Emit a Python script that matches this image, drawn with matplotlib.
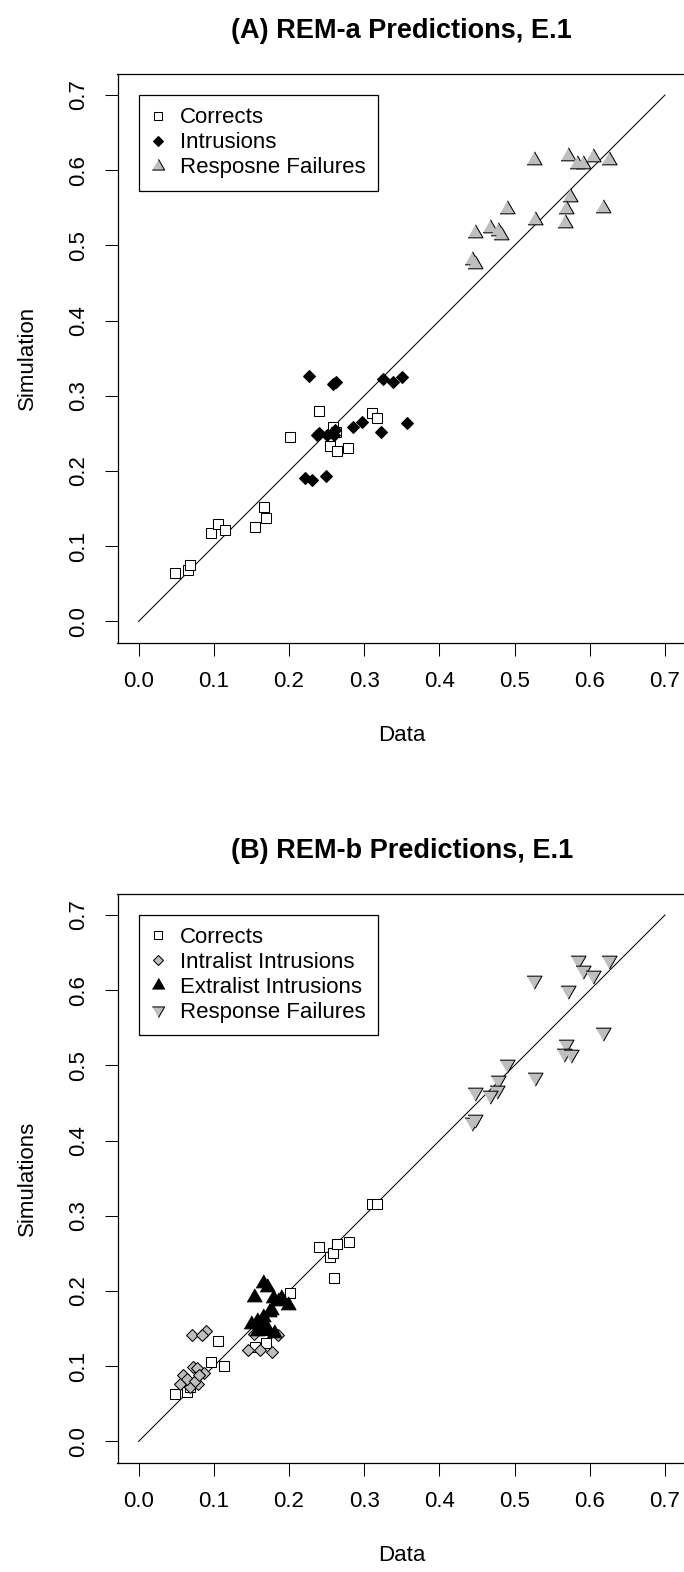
import matplotlib
matplotlib.use("Agg")
import matplotlib.pyplot as plt

plt.rcParams['font.family'] = ['Liberation Sans', 'DejaVu Sans']

# ---------------- Panel A data ----------------
a_corr_x = [0.049, 0.066, 0.068, 0.097, 0.106, 0.115, 0.155, 0.167, 0.169,
            0.202, 0.240, 0.259, 0.255, 0.264, 0.279, 0.310, 0.317, 0.262]
a_corr_y = [0.065, 0.069, 0.075, 0.118, 0.129, 0.122, 0.125, 0.152, 0.137,
            0.245, 0.280, 0.258, 0.233, 0.227, 0.231, 0.277, 0.271, 0.252]

a_intr_x = [0.226, 0.259, 0.263, 0.325, 0.338, 0.350, 0.357, 0.322, 0.285,
            0.297, 0.237, 0.240, 0.251, 0.261, 0.260, 0.222, 0.231, 0.249]
a_intr_y = [0.326, 0.316, 0.319, 0.322, 0.318, 0.325, 0.264, 0.252, 0.258,
            0.265, 0.248, 0.251, 0.248, 0.254, 0.248, 0.191, 0.188, 0.193]

a_fail_x = [0.526, 0.571, 0.583, 0.591, 0.604, 0.625, 0.574, 0.569, 0.567,
            0.617, 0.527, 0.490, 0.468, 0.478, 0.482, 0.448, 0.443, 0.447]
a_fail_y = [0.614, 0.619, 0.608, 0.608, 0.618, 0.614, 0.565, 0.548, 0.530,
            0.550, 0.534, 0.549, 0.523, 0.519, 0.514, 0.516, 0.480, 0.475]

# ---------------- Panel B data ----------------
b_corr_x = [0.049, 0.065, 0.068, 0.097, 0.114, 0.106, 0.155, 0.167, 0.169,
            0.202, 0.240, 0.255, 0.259, 0.264, 0.280, 0.260, 0.310, 0.317]
b_corr_y = [0.063, 0.066, 0.072, 0.105, 0.100, 0.134, 0.125, 0.148, 0.131,
            0.198, 0.258, 0.245, 0.251, 0.263, 0.265, 0.217, 0.316, 0.316]

b_intra_x = [0.071, 0.090, 0.085, 0.146, 0.162, 0.178, 0.154, 0.185, 0.059,
             0.055, 0.073, 0.078, 0.087, 0.069, 0.079, 0.065, 0.075, 0.081]
b_intra_y = [0.142, 0.147, 0.141, 0.121, 0.121, 0.119, 0.143, 0.141, 0.088,
             0.076, 0.099, 0.098, 0.091, 0.072, 0.076, 0.083, 0.081, 0.088]

b_extra_x = [0.165, 0.171, 0.153, 0.179, 0.189, 0.199, 0.174, 0.165, 0.157,
             0.150, 0.162, 0.170, 0.180, 0.157, 0.176, 0.160, 0.185, 0.168]
b_extra_y = [0.211, 0.205, 0.192, 0.191, 0.191, 0.182, 0.172, 0.165, 0.160,
             0.156, 0.156, 0.152, 0.144, 0.147, 0.175, 0.150, 0.187, 0.148]

b_fail_x = [0.526, 0.584, 0.591, 0.604, 0.625, 0.571, 0.617, 0.569, 0.566,
            0.575, 0.527, 0.490, 0.478, 0.477, 0.468, 0.448, 0.443, 0.447]
b_fail_y = [0.614, 0.640, 0.627, 0.620, 0.640, 0.600, 0.545, 0.528, 0.516,
            0.515, 0.485, 0.502, 0.480, 0.468, 0.461, 0.465, 0.425, 0.429]

ticks = [0.0, 0.1, 0.2, 0.3, 0.4, 0.5, 0.6, 0.7]
tick_labels = ["0.0", "0.1", "0.2", "0.3", "0.4", "0.5", "0.6", "0.7"]

GRAY = "#bebebe"
TRI_UP = [(-1.0, -0.577), (1.0, -0.577), (0.0, 1.155)]
TRI_DN = [(-1.0, 0.577), (1.0, 0.577), (0.0, -1.155)]

W, H = 684, 1572
fig = plt.figure(figsize=(W / 100, H / 100), dpi=100)


def make_axes(top_px):
    left, right = 117.5, 686.0
    bottom_px = top_px + 568.5
    ax = fig.add_axes([left / W, 1 - bottom_px / H, (right - left) / W, 568.5 / H])
    ax.set_xlim(-0.028, 0.728)
    ax.set_ylim(-0.028, 0.728)
    for s in ax.spines.values():
        s.set_linewidth(0.9)
        s.set_color("black")
    ax.set_xticks(ticks)
    ax.set_xticklabels(tick_labels)
    ax.set_yticks(ticks)
    ax.set_yticklabels(tick_labels, rotation=90, va="center")
    ax.tick_params(direction="out", length=9.4, width=0.75, labelsize=16,
                   pad=11, colors="black")
    ax.plot([0, 0.7], [0, 0.7], color="black", lw=0.75, zorder=1)
    return ax


common = dict(ls="none", mec="black", mew=0.75, zorder=3)

# ---------------- Panel A ----------------
axA = make_axes(74.0)
axA.plot(a_corr_x, a_corr_y, marker="s", ms=6.8, mfc="white", label="Corrects", **common)
axA.plot(a_intr_x, a_intr_y, marker="D", ms=6.5, mfc="black", label="Intrusions", **common)
axA.plot(a_fail_x, a_fail_y, marker=TRI_UP, ms=12.5, mfc=GRAY, label="Resposne Failures", **common)
axA.set_title("(A) REM-a Predictions, E.1", fontsize=19.5, fontweight="bold", pad=26)
axA.set_xlabel("Data", fontsize=16, labelpad=24)
axA.set_ylabel("Simulation", fontsize=16, labelpad=22)

# ---------------- Panel B ----------------
axB = make_axes(894.0)
axB.plot(b_corr_x, b_corr_y, marker="s", ms=6.8, mfc="white", label="Corrects", **common)
axB.plot(b_intra_x, b_intra_y, marker="D", ms=6.5, mfc=GRAY, label="Intralist Intrusions", **common)
axB.plot(b_extra_x, b_extra_y, marker=TRI_UP, ms=12.5, mfc="black", label="Extralist Intrusions", **common)
axB.plot(b_fail_x, b_fail_y, marker=TRI_DN, ms=12.5, mfc=GRAY, label="Response Failures", **common)
axB.set_title("(B) REM-b Predictions, E.1", fontsize=19.5, fontweight="bold", pad=26)
axB.set_xlabel("Data", fontsize=16, labelpad=24)
axB.set_ylabel("Simulations", fontsize=16, labelpad=22)

for ax in (axA, axB):
    leg = ax.legend(loc="upper left", bbox_to_anchor=(0.0, 0.7),
                    bbox_transform=ax.transData, borderaxespad=0.0,
                    fontsize=16, frameon=True, fancybox=False, framealpha=1.0,
                    edgecolor="black", handlelength=0.65, handletextpad=0.66,
                    borderpad=0.55, labelspacing=0.18, markerscale=0.82)
    leg.get_frame().set_linewidth(0.9)

fig.savefig("out.png", dpi=100)
